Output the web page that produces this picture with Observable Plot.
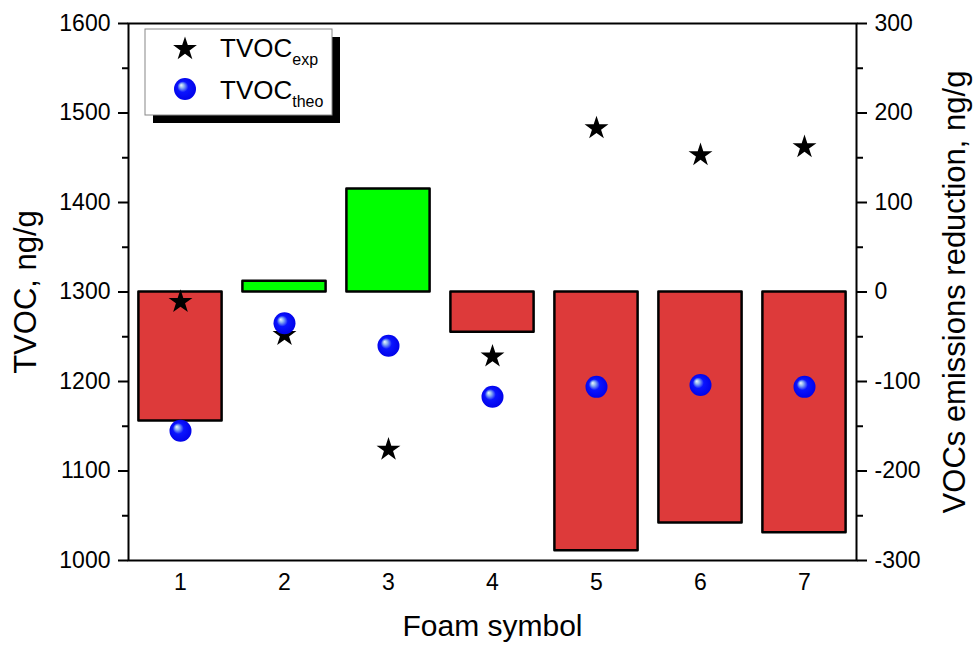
<!DOCTYPE html>
<html><head><meta charset="utf-8">
<script src="https://cdn.jsdelivr.net/npm/d3@7"></script>
<script src="https://cdn.jsdelivr.net/npm/@observablehq/plot@0.6"></script>
<style>
body{margin:0;background:#fff;}
#wrap{position:relative;width:973px;height:645px;}
</style></head><body><div id="wrap"></div>
<script>
const foam = [1, 2, 3, 4, 5, 6, 7];
const tvocExp = [1289, 1252, 1124, 1228, 1483, 1453, 1462];
const tvocTheo = [1145, 1265, 1240, 1183, 1194, 1196, 1194];
const reduction = [-144, 12, 115, -45, -289, -258, -269];
const leftTicks = [1000, 1100, 1200, 1300, 1400, 1500, 1600];
const leftMinor = [1050, 1150, 1250, 1350, 1450, 1550];
const rightTicks = [-300, -200, -100, 0, 100, 200, 300];
const rightMinor = [-250, -150, -50, 50, 150, 250];
const offset = 1300; // right-axis 0 aligns with left-axis 1300

const data = foam.map((f, i) => ({foam: f, exp: tvocExp[i], theo: tvocTheo[i], red: reduction[i]}));

const svg = Plot.plot({
  width: 973, height: 645,
  marginLeft: 128, marginRight: 117, marginTop: 23, marginBottom: 85,
  style: {fontFamily: "'Liberation Sans', Arial, sans-serif", fontSize: "23px", background: "#fff", color: "#000"},
  x: {domain: [0.5, 7.5]},
  y: {domain: [1000, 1600]},
  marks: [
    Plot.rect(data, {
      x1: d => d.foam - 0.4, x2: d => d.foam + 0.4,
      y1: () => offset, y2: d => d.red + offset,
      fill: d => d.red >= 0 ? "#00ff00" : "#dd3a3a",
      stroke: "#000", strokeWidth: 2.5, strokeLinejoin: "round"
    }),
    Plot.dot(data, {x: "foam", y: "exp", symbol: "star", r: 7.5, fill: "#000", stroke: "none"}),
    Plot.dot(data, {x: "foam", y: "theo", r: 11, fill: "url(#ball)", stroke: "none"}),
    Plot.frame({stroke: "#000", strokeWidth: 2}),
    Plot.axisY({ticks: leftTicks, anchor: "left", tickSize: 10, tickPadding: 8, strokeWidth: 2, tickFormat: d => String(d), label: null}),
    Plot.axisY({ticks: leftMinor, anchor: "left", tickSize: 6, tickFormat: () => "", strokeWidth: 2, label: null}),
    Plot.axisY({ticks: rightTicks.map(v => v + offset), anchor: "right", tickSize: 10, tickPadding: 8, strokeWidth: 2, tickFormat: d => String(d - offset), label: null}),
    Plot.axisY({ticks: rightMinor.map(v => v + offset), anchor: "right", tickSize: 6, tickFormat: () => "", strokeWidth: 2, label: null}),
    Plot.axisX({ticks: foam, tickSize: 0, tickPadding: 13, tickFormat: d => String(d), label: null}),
    Plot.text(["TVOC, ng/g"], {frameAnchor: "left", dx: -102, rotate: -90, fontSize: 31, textAnchor: "middle", lineAnchor: "middle"}),
    Plot.text(["VOCs emissions reduction, ng/g"], {frameAnchor: "right", dx: 99, rotate: -90, fontSize: 31, textAnchor: "middle", lineAnchor: "middle"}),
    Plot.text(["Foam symbol"], {frameAnchor: "bottom", dy: 66, fontSize: 30, textAnchor: "middle", lineAnchor: "middle"})
  ]
});

// gradient for the 3D ball markers
const s = d3.select(svg);
const defs = s.insert("defs", ":first-child");
const g = defs.append("radialGradient").attr("id", "ball").attr("cx", "50%").attr("cy", "50%").attr("r", "55%").attr("fx", "32%").attr("fy", "32%");
g.append("stop").attr("offset", "0%").attr("stop-color", "#f0f6ff");
g.append("stop").attr("offset", "18%").attr("stop-color", "#8fb6f0");
g.append("stop").attr("offset", "45%").attr("stop-color", "#0a14ff");
g.append("stop").attr("offset", "100%").attr("stop-color", "#0000e6");

// legend
const lg = s.append("g").attr("font-family", "'Liberation Sans', Arial, sans-serif").attr("text-anchor", "start");
lg.append("rect").attr("x", 153).attr("y", 37).attr("width", 187).attr("height", 86).attr("fill", "#000");
lg.append("rect").attr("x", 145).attr("y", 29).attr("width", 187).attr("height", 86).attr("fill", "#fff").attr("stroke", "#888").attr("stroke-width", 1);
lg.append("path").attr("d", d3.symbol(d3.symbolStar, Math.PI * 7.5 * 7.5)()).attr("transform", "translate(185,49)").attr("fill", "#000");
lg.append("circle").attr("cx", 185).attr("cy", 89).attr("r", 11).attr("fill", "url(#ball)");
const t1 = lg.append("text").attr("x", 220).attr("y", 57).attr("font-size", 26);
t1.append("tspan").text("TVOC");
t1.append("tspan").attr("font-size", 16).attr("dy", 8).text("exp");
const t2 = lg.append("text").attr("x", 220).attr("y", 99).attr("font-size", 26);
t2.append("tspan").text("TVOC");
t2.append("tspan").attr("font-size", 16).attr("dy", 8).text("theo");

document.getElementById("wrap").appendChild(svg);
</script></body></html>
